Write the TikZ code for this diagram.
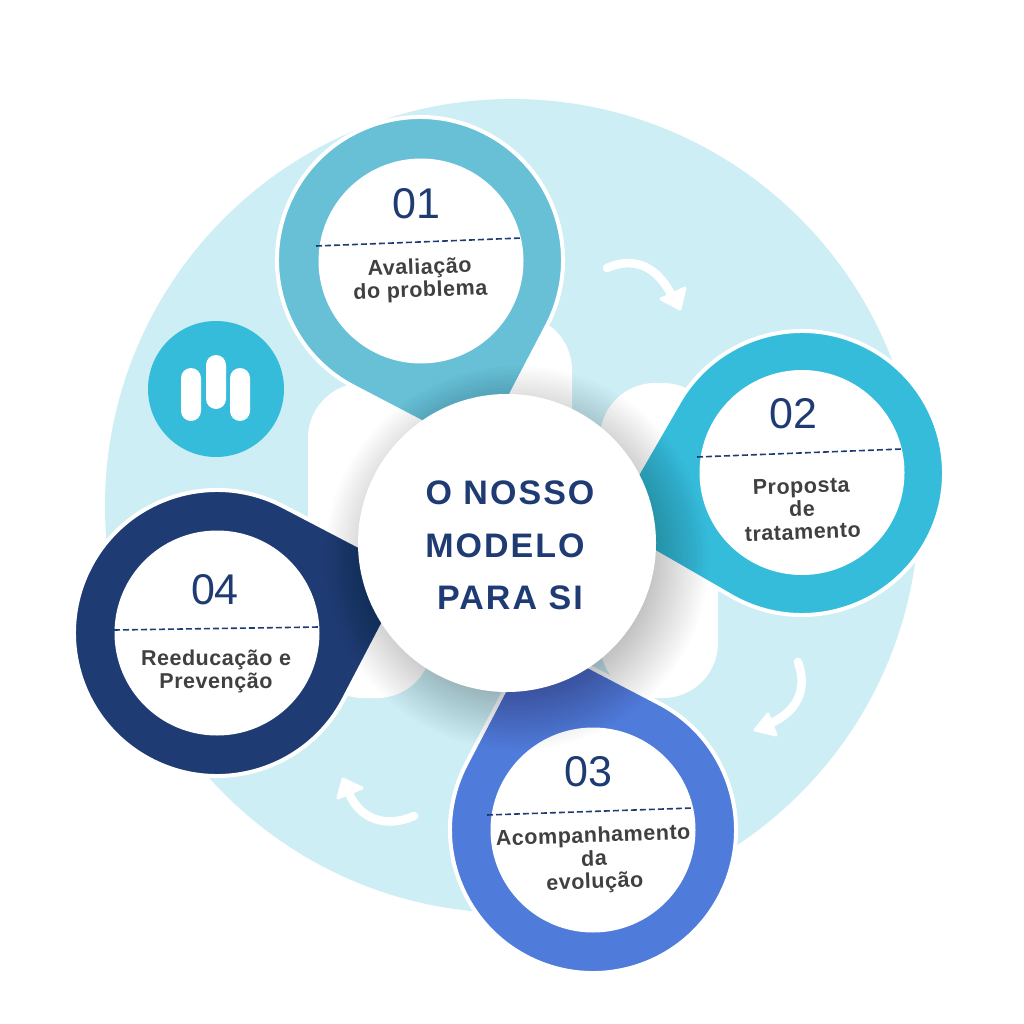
\documentclass[tikz,border=0pt]{standalone}
\usepackage{fontspec}
\setmainfont{Liberation Sans}
\newfontfamily\ctrfont[LetterSpace=6]{Liberation Sans}
\newfontfamily\labfont[LetterSpace=2.5]{Liberation Sans}
\definecolor{bgblue}{HTML}{CDEEF5}
\definecolor{pinA}{HTML}{67C0D6}
\definecolor{pinB}{HTML}{36BCDB}
\definecolor{pinC}{HTML}{4F7BDB}
\definecolor{pinD}{HTML}{1F3B73}
\definecolor{navy}{HTML}{1F3B73}
\definecolor{labelgray}{HTML}{404040}
\tikzset{
  x=1pt,y=-1pt,
  backbar/.style={fill=white,draw=none,rounded corners=55pt},
  numtext/.style={text=navy,font=\fontsize{43}{43}\selectfont,inner sep=0pt},
  labeltext/.style={text=labelgray,font=\fontsize{21.5}{23}\labfont\bfseries,align=center,inner sep=0pt},
  divider/.style={navy,line width=1.6pt,dash pattern=on 6pt off 3pt},
  ctrtext/.style={text=navy,font=\fontsize{34}{34}\ctrfont\bfseries,inner sep=0pt},
  curvearrow/.style={white,line width=8.5pt,line cap=round},
  headfill/.style={fill=white,draw=white,line width=3pt,line join=round},
  iconbar/.style={fill=white,draw=none,rounded corners=10pt},
  shadowring/.style={fill=black,opacity=0.012}
}
\newcommand{\pinshape}[5]{% x,y,angle,radius,colour
  \begin{scope}[shift={(#1,#2)},rotate=#3]
    \path[fill=#5,draw=white,line width=4pt,line join=miter]
      ({#4*1.4142pt},0pt) -- (45:#4pt) arc (45:315:#4pt) -- cycle;
  \end{scope}
}
\begin{document}
\begin{tikzpicture}
\useasboundingbox[fill=white] (0,0) rectangle (1024,1024);
% background disc
\fill[bgblue] (512,506) circle[radius=407pt];
% white bars behind the pins
\fill[backbar] (308,383) rectangle (432,698);
\fill[backbar] (600,383) rectangle (718,698);
\fill[backbar] (452,315) rectangle (572,630);
% icon
\fill[pinB] (216,389) circle[radius=68pt];
\fill[iconbar] (181,368) rectangle (201,421);
\fill[iconbar] (206,355) rectangle (226,409);
\fill[iconbar] (230,368) rectangle (250,421);
% arrows
\draw[curvearrow] (607,268) .. controls (630,258) and (654,262) .. (671,294);
\fill[headfill] (685,288) -- (661,299) -- (680,309) -- cycle;
\draw[curvearrow] (798,662) .. controls (808,690) and (797,712) .. (769,724);
\fill[headfill] (768,714) -- (755,730) -- (776,735) -- cycle;
\draw[curvearrow] (414,816) .. controls (387,828) and (360,820) .. (349,793);
\fill[headfill] (343,779) -- (362,788) -- (338,798) -- cycle;
% pins
\pinshape{420}{260}{-72.6}{143}{pinA}
\pinshape{802}{473}{195}{142}{pinB}
\pinshape{593}{830}{107.4}{143}{pinC}
\pinshape{217}{633}{17.4}{143}{pinD}
% inner discs
\fill[white] (421,261) circle[radius=102.5pt];
\fill[white] (802,472.5) circle[radius=102.5pt];
\fill[white] (593,830) circle[radius=102.5pt];
\fill[white] (217,633) circle[radius=102.5pt];
% soft shadow of the centre disc
\foreach \r in {135,138,...,192}{
  \fill[shadowring] (517,558) circle[radius=\r pt];
}
% centre disc
\node[circle,fill=white,minimum size=298pt,inner sep=0pt] (centre) at (507,543) {};
\node[ctrtext] (t1) at (510,493) {O NOSSO};
\node[ctrtext] (t2) at (505,546) {MODELO};
\node[ctrtext] (t3) at (510,598) {PARA SI};
% pin 1
\node[numtext] (n1) at (416,204) {01};
\draw[divider] (316,246) -- (522,238);
\node[labeltext,rotate=2] (l1) at (420,280) {Avaliação\\do problema};
% pin 2
\node[numtext] (n2) at (793,414) {02};
\draw[divider] (697,457) -- (902,449);
\node[labeltext,rotate=2] (l2) at (802,509) {Proposta\\de\\tratamento};
% pin 3
\node[numtext] (n3) at (588,772) {03};
\draw[divider] (487,815) -- (693,808);
\node[labeltext,rotate=2] (l3) at (594,860) {Acompanhamento\\da\\evolução};
% pin 4
\node[numtext] (n4) at (215,590) {04};
\draw[divider] (114,630) -- (319,627);
\node[labeltext] (l4) at (216,671) {Reeducação e\\Prevenção};
\end{tikzpicture}
\end{document}
